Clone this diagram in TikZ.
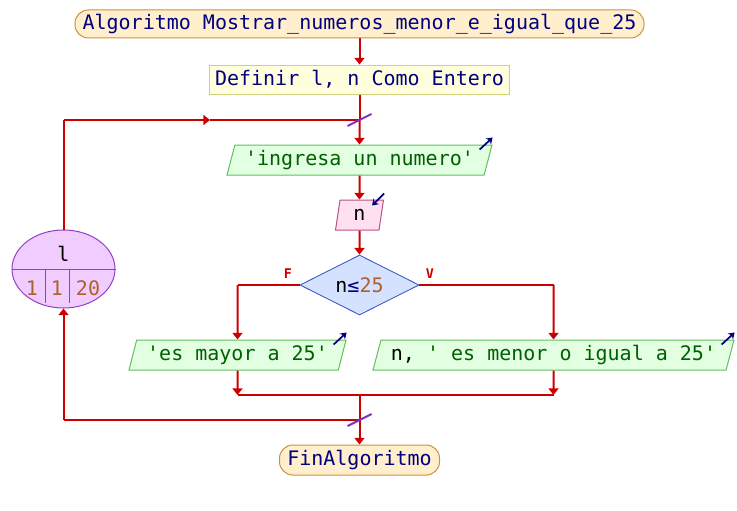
\documentclass[tikz,border=0pt]{standalone}
\usepackage{fontspec}
\setmonofont{DejaVu Sans Mono}
\usetikzlibrary{shapes.geometric,arrows.meta,calc}
\definecolor{flowred}{HTML}{CC0000}
\definecolor{navy}{HTML}{000080}
\definecolor{dgreen}{HTML}{006000}
\definecolor{brown}{HTML}{B0602A}
\definecolor{startfill}{HTML}{FFEFCC}
\definecolor{startdraw}{HTML}{D09040}
\definecolor{deffill}{HTML}{FFFFDD}
\definecolor{defdraw}{HTML}{D0D080}
\definecolor{outfill}{HTML}{E2FFE2}
\definecolor{outdraw}{HTML}{60C060}
\definecolor{infill}{HTML}{FFE0F0}
\definecolor{indraw}{HTML}{C05080}
\definecolor{decfill}{HTML}{D4E2FF}
\definecolor{decdraw}{HTML}{3050C0}
\definecolor{loopfill}{HTML}{F0CCFF}
\definecolor{loopdraw}{HTML}{9040C8}
\definecolor{slash}{HTML}{8030C0}
\begin{document}
\begin{tikzpicture}[x=0.75pt,y=-0.75pt,
  every node/.style={font=\ttfamily\fontsize{15}{18}\selectfont, inner sep=0pt},
  flow/.style={draw=flowred, line width=1.5pt},
  flowarrow/.style={flow, -{Triangle[width=7.5pt,length=5pt]}},
  termbox/.style={draw=startdraw, fill=startfill, line width=0.75pt, rounded corners=10pt, minimum height=21pt, text=navy},
  defbox/.style={draw=defdraw, fill=deffill, line width=0.75pt, minimum height=21.75pt, text=navy},
  outbox/.style={trapezium, trapezium left angle=68, trapezium right angle=112, trapezium stretches body=true, draw=outdraw, fill=outfill, line width=0.75pt, minimum height=22.5pt, text=dgreen},
  inbox/.style={trapezium, trapezium left angle=68, trapezium right angle=112, trapezium stretches body=true, draw=indraw, fill=infill, line width=0.75pt, minimum height=22.5pt, text=black},
  decbox/.style={diamond, aspect=2, draw=decdraw, fill=decfill, line width=0.6pt, minimum width=89.25pt, minimum height=45pt},
  icon/.style={draw=navy, line width=1.3pt, -{Stealth[width=6pt,length=4.5pt]}},
  branchlbl/.style={font=\ttfamily\fontsize{10}{12}\selectfont\bfseries, text=flowred},
  slashline/.style={draw=slash, line width=1.5pt}
]
\useasboundingbox (0,0) rectangle (737,510);

% nodes
\node[termbox, minimum width=426.75pt] (start) at (359.5,24) {Algoritmo Mostrar\_numeros\_menor\_e\_igual\_que\_25};
\node[defbox, minimum width=225pt] (def) at (359.5,79.5) {Definir l, n Como Entero};
\node[outbox, minimum width=198.75pt] (out1) at (359.5,160) {'ingresa un numero'};
\node[inbox, minimum width=36pt] (inn) at (359.5,215) {n};
\node[decbox] (dec) at (359.5,285) {n\textcolor{navy}{≤}\textcolor{brown}{25}};
\node[outbox, minimum width=162.75pt] (out2) at (237.5,355) {'es mayor a 25'};
\node[outbox, minimum width=270.75pt] (out3) at (553.5,355) {\textcolor{black}{n,} ' es menor o igual a 25'};
\node[termbox, minimum width=120pt, minimum height=22.5pt] (fin) at (359.5,460) {FinAlgoritmo};
\node[ellipse, draw=loopdraw, fill=loopfill, line width=0.75pt, minimum width=77.25pt, minimum height=58.5pt] (loop) at (63.5,269) {};
\node (lvar) at (63.5,254) {l};
\node[text=brown] (lv1) at (32,288) {1};
\node[text=brown] (lv2) at (57,288) {1};
\node[text=brown] (lv3) at (88,288) {20};
\draw[draw=loopdraw, line width=0.75pt] (loop.west) -- (loop.east);
\draw[draw=loopdraw, line width=0.75pt] (45,270) -- (45,303) (69,270) -- (69,303);

% branch labels
\node[branchlbl] (flbl) at (288,274) {F};
\node[branchlbl] (vlbl) at (430,274) {V};

% junction coordinates
\coordinate (jtop) at (359.5,120);
\coordinate (jbot) at (359.5,420);
\coordinate (lpt) at (63.5,120);
\coordinate (lmid) at (210,120);
\coordinate (lbot) at (63.5,420);
\coordinate (fL) at (237.5,285);
\coordinate (vR) at (553.5,285);
\coordinate (mL) at (237.5,395);
\coordinate (mR) at (553.5,395);
\coordinate (mC) at (359.5,395);

% connectors
\draw[flowarrow] (start.south) -- (def.north);
\draw[flow] (def.south) -- (jtop);
\draw[flowarrow] (jtop) -- (out1.north);
\draw[flowarrow] (out1.south) -- (inn.north);
\draw[flowarrow] (inn.south) -- (dec.north);
\draw[flow] (dec.west) -- (fL);
\draw[flowarrow] (fL) -- (out2.north);
\draw[flow] (dec.east) -- (vR);
\draw[flowarrow] (vR) -- (out3.north);
\draw[flowarrow] (out2.south) -- (mL);
\draw[flowarrow] (out3.south) -- (mR);
\draw[flow] (mL) -- (mR);
\draw[flow] (mC) -- (jbot);
\draw[flowarrow] (jbot) -- (fin.north);
\draw[flow] (loop.north) -- (lpt);
\draw[flowarrow] (lpt) -- (lmid);
\draw[flow] (lmid) -- (jtop);
\draw[flow] (jbot) -- (lbot);
\draw[flowarrow] (lbot) -- (loop.south);

% slashes
\draw[slashline] ($(jtop)+(-12,6)$) -- ($(jtop)+(12,-6)$);
\draw[slashline] ($(jbot)+(-12,6)$) -- ($(jbot)+(12,-6)$);

% io icons
\draw[icon] ($(out1.top right corner)+(-13,5)$) -- ($(out1.top right corner)+(0,-7)$);
\draw[icon] ($(out2.top right corner)+(-13,5)$) -- ($(out2.top right corner)+(0,-7)$);
\draw[icon] ($(out3.top right corner)+(-13,5)$) -- ($(out3.top right corner)+(0,-7)$);
\draw[icon] ($(inn.top right corner)+(0,-6)$) -- ($(inn.top right corner)+(-12,6)$);
\end{tikzpicture}
\end{document}
